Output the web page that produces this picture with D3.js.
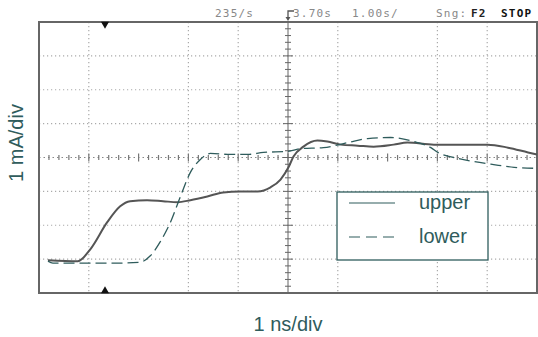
<!DOCTYPE html>
<html>
<head>
<meta charset="utf-8">
<style>
html, body { margin: 0; padding: 0; background: #fff; }
svg { display: block; }
</style>
<script src="https://cdn.jsdelivr.net/npm/d3@7"></script>
</head>
<body>
<div id="chart"></div>
<script>
// traces in scope divisions: x 0..10, y -4..4
var upperX = [0.18, 0.78, 1.03, 1.37, 1.63, 1.83, 2.17, 2.49, 2.78, 3.04, 3.38, 3.70, 4.04, 4.39, 4.65, 4.85, 5.01, 5.11, 5.31, 5.59, 5.79, 6.06, 6.40, 6.72, 7.12, 7.40, 7.93, 8.33, 9.01, 9.42, 9.82, 10.0];
var upperY = [-3.03, -3.06, -2.71, -1.91, -1.44, -1.29, -1.26, -1.29, -1.32, -1.26, -1.15, -1.03, -1.00, -1.00, -0.88, -0.65, -0.29, 0.03, 0.32, 0.50, 0.47, 0.38, 0.35, 0.32, 0.38, 0.44, 0.38, 0.38, 0.38, 0.29, 0.15, 0.09];

var lowerX = [0.18, 0.28, 0.82, 1.49, 2.03, 2.23, 2.43, 2.64, 2.84, 3.04, 3.24, 3.44, 3.84, 4.19, 4.51, 4.99, 5.25, 5.71, 6.20, 6.60, 7.06, 7.53, 7.87, 8.01, 8.33, 8.73, 9.13, 9.54, 10.0];
var lowerY = [-3.06, -3.12, -3.12, -3.12, -3.09, -2.91, -2.50, -1.91, -1.15, -0.44, -0.06, 0.12, 0.09, 0.09, 0.15, 0.18, 0.26, 0.29, 0.44, 0.56, 0.59, 0.47, 0.29, 0.15, 0.00, -0.12, -0.21, -0.29, -0.32];

// graticule lines that show in the screenshot
var gridX = [1, 3, 4, 6, 8, 9];
var gridY = [-3, -2, -1, 1, 2, 3];

var seriesNames = ["upper", "lower"];
var xLabel = "1 ns/div";
var yLabel = "1 mA/div";

var w = 538, h = 337;
var teal = "#2f5c5c";

var svg = d3.select("#chart").append("svg")
  .attr("width", w)
  .attr("height", h);

var x = d3.scaleLinear().domain([0, 10]).range([39, 537]);
var y = d3.scaleLinear().domain([-4, 4]).range([293, 22]);

// dotted graticule
svg.selectAll("line.gx").data(gridX).enter().append("line")
  .attr("x1", function(d) { return x(d); })
  .attr("x2", function(d) { return x(d); })
  .attr("y1", y(4)).attr("y2", y(-4))
  .attr("stroke", "#aaa").attr("stroke-width", 1.2)
  .attr("stroke-dasharray", "1.2,2.8");

svg.selectAll("line.gy").data(gridY).enter().append("line")
  .attr("x1", x(0)).attr("x2", x(10))
  .attr("y1", function(d) { return y(d); })
  .attr("y2", function(d) { return y(d); })
  .attr("stroke", "#aaa").attr("stroke-width", 1.2)
  .attr("stroke-dasharray", "1.2,2.8");

// centre axes with minor ticks
svg.append("line")
  .attr("x1", x(0)).attr("x2", x(10))
  .attr("y1", y(0)).attr("y2", y(0))
  .attr("stroke", "#888").attr("stroke-width", 1.2)
  .attr("stroke-dasharray", "1.5,3");
svg.append("line")
  .attr("x1", x(5)).attr("x2", x(5))
  .attr("y1", y(4)).attr("y2", y(-4))
  .attr("stroke", "#666").attr("stroke-width", 1);

var minorX = d3.range(1, 50).map(function(i) { return i / 5; });
var minorY = d3.range(-19, 20).map(function(i) { return i / 5; });

svg.selectAll("line.tx").data(minorX).enter().append("line")
  .attr("x1", function(d) { return x(d); })
  .attr("x2", function(d) { return x(d); })
  .attr("y1", function(d) { return y(0) - (d % 1 === 0 ? 4 : 2.5); })
  .attr("y2", function(d) { return y(0) + (d % 1 === 0 ? 4 : 2.5); })
  .attr("stroke", "#777").attr("stroke-width", 1.2);

svg.selectAll("line.ty").data(minorY).enter().append("line")
  .attr("x1", function(d) { return x(5) - (Math.abs(d % 1) < 1e-9 ? 5 : 3); })
  .attr("x2", function(d) { return x(5) + (Math.abs(d % 1) < 1e-9 ? 5 : 3); })
  .attr("y1", function(d) { return y(d); })
  .attr("y2", function(d) { return y(d); })
  .attr("stroke", "#666").attr("stroke-width", 1);

// frame
svg.append("rect")
  .attr("x", x(0)).attr("y", y(4))
  .attr("width", x(10) - x(0)).attr("height", y(-4) - y(4))
  .attr("fill", "none").attr("stroke", "#666").attr("stroke-width", 2);

// trigger markers
var tri = d3.symbol().type(d3.symbolTriangle).size(28);
svg.append("path").attr("d", tri)
  .attr("transform", "translate(105," + (y(4) + 2) + ") rotate(180)")
  .attr("fill", "#111");
svg.append("path").attr("d", tri)
  .attr("transform", "translate(105," + (y(-4) - 2) + ")")
  .attr("fill", "#111");

// traces
var line = d3.line()
  .x(function(d) { return x(d[0]); })
  .y(function(d) { return y(d[1]); })
  .curve(d3.curveMonotoneX);

svg.append("path")
  .datum(d3.zip(upperX, upperY))
  .attr("d", line)
  .attr("fill", "none").attr("stroke", "#555").attr("stroke-width", 2);

svg.append("path")
  .datum(d3.zip(lowerX, lowerY))
  .attr("d", line)
  .attr("fill", "none").attr("stroke", teal).attr("stroke-width", 1.3)
  .attr("stroke-dasharray", "11,5");

// scope header
var head = svg.append("g")
  .attr("font-family", "DejaVu Sans Mono, monospace")
  .attr("font-size", 11)
  .attr("letter-spacing", 1.2);
head.append("text").attr("x", 215).attr("y", 17).attr("fill", "#888").text("235/s");
head.append("path")
  .attr("d", "M" + x(5) + ",19 L" + x(5) + ",11 L" + (x(5) + 6) + ",11")
  .attr("fill", "none").attr("stroke", "#555").attr("stroke-width", 1.3);
head.append("path")
  .attr("d", "M" + (x(5) - 2.5) + ",17 L" + (x(5) + 2.5) + ",17 L" + x(5) + ",21 Z")
  .attr("fill", "#555");
head.append("text").attr("x", 293).attr("y", 17).attr("fill", "#888").text("3.70s");
head.append("text").attr("x", 352).attr("y", 17).attr("fill", "#888").text("1.00s/");
head.append("text").attr("x", 436).attr("y", 17).attr("fill", "#888").text("Sng:");
head.append("text").attr("x", 471).attr("y", 17).attr("fill", "#222")
  .attr("font-weight", "bold").text("F2");
head.append("text").attr("x", 501).attr("y", 17).attr("fill", "#111")
  .attr("font-weight", "bold").text("STOP");

// legend
var lg = svg.append("g");
lg.append("rect")
  .attr("x", 337).attr("y", 192).attr("width", 151).attr("height", 68)
  .attr("fill", "#fff").attr("stroke", teal).attr("stroke-width", 1.3);
seriesNames.forEach(function(name, i) {
  var ly = 203 + i * 34;
  lg.append("line")
    .attr("x1", 349).attr("x2", 395).attr("y1", ly).attr("y2", ly)
    .attr("stroke", teal).attr("stroke-width", 1.2)
    .attr("stroke-dasharray", i === 1 ? "11,6" : null);
  lg.append("text")
    .attr("x", 419).attr("y", ly + 6)
    .attr("font-family", "Liberation Sans, Arial, sans-serif")
    .attr("font-size", 20).attr("fill", teal)
    .text(name);
});

// axis labels
svg.append("text")
  .attr("x", x(5)).attr("y", 331)
  .attr("text-anchor", "middle")
  .attr("font-family", "Liberation Sans, Arial, sans-serif")
  .attr("font-size", 20).attr("fill", teal)
  .text(xLabel);
svg.append("text")
  .attr("transform", "translate(23,143) rotate(-90)")
  .attr("text-anchor", "middle")
  .attr("font-family", "Liberation Sans, Arial, sans-serif")
  .attr("font-size", 20).attr("fill", teal)
  .text(yLabel);
</script>
</body>
</html>
